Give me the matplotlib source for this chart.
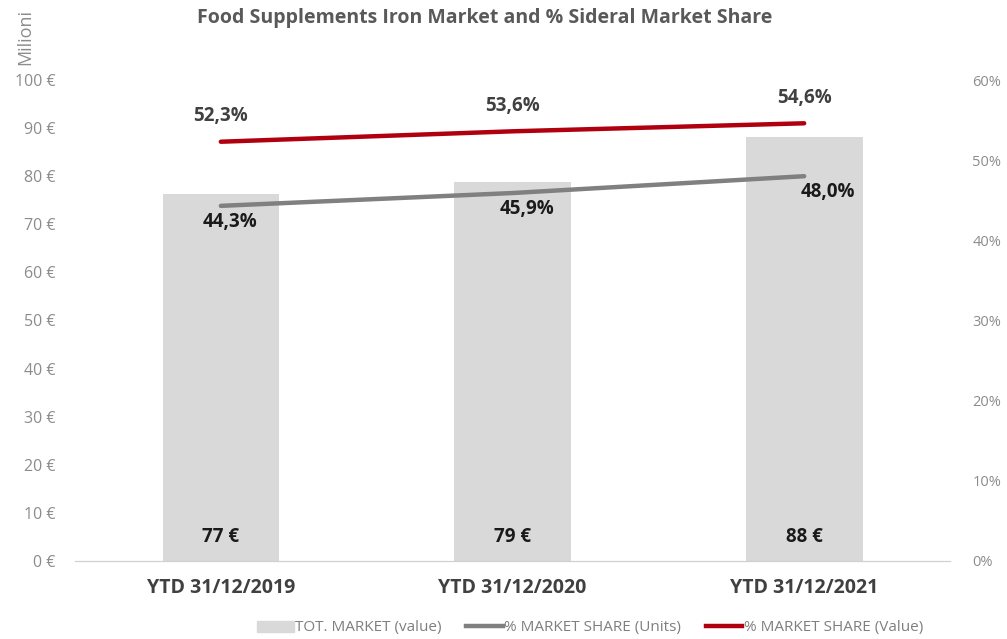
import matplotlib.pyplot as plt
from matplotlib.lines import Line2D
from matplotlib.patches import Patch

periods = ['YTD 31/12/2019', 'YTD 31/12/2020', 'YTD 31/12/2021']
tot_market = [76.4, 78.8, 88.1]
bar_labels = ['77 €', '79 €', '88 €']
share_units = [44.3, 45.9, 48.0]
share_value = [52.3, 53.6, 54.6]

plt.rcParams['font.family'] = ['Open Sans', 'DejaVu Sans']

fig = plt.figure(figsize=(10.07, 6.39), dpi=100)
ax = fig.add_axes([75 / 1007, 78 / 639, 875 / 1007, 481 / 639])
ax2 = ax.twinx()

x = range(len(periods))
ax.bar(x, tot_market, width=0.4, color='#d9d9d9', zorder=1)
for i, lab in enumerate(bar_labels):
    ax.text(i, 5, lab, ha='center', va='center', fontsize=13.5, fontweight='bold', color='#1a1a1a')

ax.set_xlim(-0.5, 2.5)
ax.set_ylim(0, 100)
ax.set_yticks(range(0, 101, 10))
ax.set_yticklabels([f'{v} €' for v in range(0, 101, 10)])
ax.set_xticks(list(x))
ax.set_xticklabels(periods, fontsize=14, fontweight='bold', color='#404040')

ax2.plot(x, share_units, color='#808080', linewidth=3.2, solid_capstyle='round', zorder=3)
ax2.plot(x, share_value, color='#b00010', linewidth=3.2, solid_capstyle='round', zorder=3)
ax2.set_ylim(0, 60)
ax2.set_yticks(range(0, 61, 10))
ax2.set_yticklabels([f'{v}%' for v in range(0, 61, 10)])

units_dx = [0.03, 0.05, 0.08]
for i, v in enumerate(share_units):
    ax2.text(i + units_dx[i], v - 2.0, f'{v:.1f}%'.replace('.', ','), ha='center', va='center',
             fontsize=13.5, fontweight='bold', color='#1a1a1a')
for i, v in enumerate(share_value):
    ax2.text(i, v + 3.2, f'{v:.1f}%'.replace('.', ','), ha='center', va='center',
             fontsize=13.5, fontweight='bold', color='#404040')

for a in (ax, ax2):
    for s in ('top', 'left', 'right'):
        a.spines[s].set_visible(False)
    a.spines['bottom'].set_color('#d0d0d0')
    a.tick_params(axis='y', length=0, labelsize=11.5, labelcolor='#8c8c8c')
ax.tick_params(axis='x', length=0, pad=12)
ax.tick_params(axis='y', pad=14)
ax2.tick_params(axis='y', pad=16, labelsize=10.5)

fig.text(25 / 1007, 1 - 37 / 639, 'Milioni', rotation=90, ha='center', va='center',
         fontsize=13, color='#8c8c8c')
fig.text(485 / 1007, 1 - 18 / 639, 'Food Supplements Iron Market and % Sideral Market Share',
         ha='center', va='center', fontsize=14, fontweight='bold', color='#595959')

handles = [Patch(color='#d9d9d9'),
           Line2D([], [], color='#808080', linewidth=3.2),
           Line2D([], [], color='#b00010', linewidth=3.2)]
labels = ['TOT. MARKET (value)', '% MARKET SHARE (Units)', '% MARKET SHARE (Value)']
fig.legend(handles, labels, loc='center', bbox_to_anchor=(590 / 1007, 1 - 628 / 639), ncol=3,
           frameon=False, fontsize=11, labelcolor='#7f7f7f', handlelength=2.4,
           handletextpad=0.1, columnspacing=1.6)

fig.savefig('out.png', dpi=100)
